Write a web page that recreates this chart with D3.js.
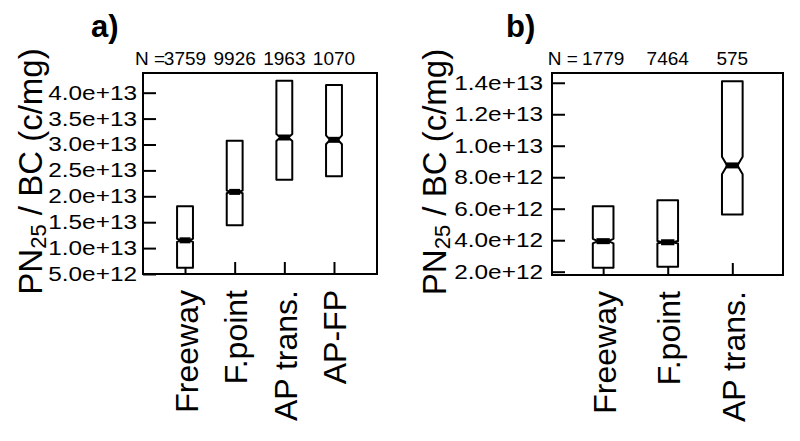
<!DOCTYPE html>
<html>
<head>
<meta charset="utf-8">
<script src="https://cdn.jsdelivr.net/npm/d3@7/dist/d3.min.js"></script>
<style>
  body { margin: 0; background: #fff; }
  svg { display: block; font-family: "Liberation Sans", Arial, sans-serif; }
</style>
</head>
<body>
<svg id="chart" width="800" height="441"></svg>
<script>
// ---------- Data ----------
const catsA = ["Freeway", "F.point", "AP trans.", "AP-FP"];
const nA    = [3759, 9926, 1963, 1070];
const q1A   = [6.2e12, 1.44e13, 2.32e13, 2.385e13];
const medA  = [1.15e13, 2.085e13, 3.135e13, 3.09e13];
const q3A   = [1.81e13, 3.07e13, 4.23e13, 4.15e13];
const ticksA = [5e12, 1e13, 1.5e13, 2e13, 2.5e13, 3e13, 3.5e13, 4e13];

const catsB = ["Freeway", "F.point", "AP trans."];
const nB    = [1779, 7464, 575];
const q1B   = [2.25e12, 2.32e12, 5.63e12];
const medB  = [3.94e12, 3.87e12, 8.75e12];
const q3B   = [6.15e12, 6.53e12, 1.41e13];
const ticksB = [2e12, 4e12, 6e12, 8e12, 1e13, 1.2e13, 1.4e13];

const svg = d3.select("#chart");
const fmt = d3.format(".1e");

function panel(cfg) {
  const { cats, n, q1, med, q3, ticks, left, right, top, bottom, xDom, yDom,
          title, titleX, nPrefix, ylabX, labEnd } = cfg;
  const x = d3.scaleLinear().domain(xDom).range([left, right]);
  const y = d3.scaleLinear().domain(yDom).range([bottom, top]);
  const g = svg.append("g");
  const step = x(2) - x(1);
  const w = 0.32 * step;

  // y axis (inward ticks)
  const ya = g.append("g").attr("transform", `translate(${left},0)`)
    .call(d3.axisLeft(y).tickValues(ticks).tickFormat("").tickSizeInner(-13).tickSizeOuter(0));
  ya.select(".domain").remove();
  ya.selectAll(".tick line").attr("stroke", "#000").attr("stroke-width", 2);
  ya.selectAll(".tick text").remove();
  // tick labels (horizontally widened as in the reference)
  g.selectAll(".ylab").data(ticks).enter().append("text").attr("class", "ylab")
    .attr("transform", (t) => `translate(${labEnd},${y(t) + 7}) scale(1.25,1)`)
    .attr("text-anchor", "end").attr("font-size", 19.5).attr("fill", "#000")
    .text((t) => fmt(t));

  // x axis (inward ticks, rotated labels)
  const xa = g.append("g").attr("transform", `translate(0,${bottom})`)
    .call(d3.axisBottom(x).tickValues(d3.range(1, cats.length + 1))
      .tickFormat((d) => cats[d - 1]).tickSizeInner(-12).tickSizeOuter(0));
  xa.select(".domain").remove();
  xa.selectAll(".tick line").attr("stroke", "#000").attr("stroke-width", 2);
  xa.selectAll(".tick text").attr("font-size", 32).attr("fill", "#000")
    .attr("transform", "rotate(-90)").attr("text-anchor", "end")
    .attr("x", -16).attr("y", 12).attr("dy", 0);

  // notched boxes
  const data = cats.map((c, i) => ({ i: i + 1, n: n[i], q1: q1[i], med: med[i], q3: q3[i] }));
  data.forEach((d) => {
    const nt = 1.58 * (d.q3 - d.q1) / Math.sqrt(d.n);
    const cx = x(d.i), x0 = cx - w / 2, x1 = cx + w / 2;
    const p = d3.path();
    p.moveTo(x0, y(d.q1));
    p.lineTo(x0, y(d.med - nt));
    p.lineTo(cx - w / 4, y(d.med));
    p.lineTo(x0, y(d.med + nt));
    p.lineTo(x0, y(d.q3));
    p.lineTo(x1, y(d.q3));
    p.lineTo(x1, y(d.med + nt));
    p.lineTo(cx + w / 4, y(d.med));
    p.lineTo(x1, y(d.med - nt));
    p.lineTo(x1, y(d.q1));
    p.closePath();
    g.append("path").attr("d", p.toString()).attr("fill", "#fff")
      .attr("stroke", "#000").attr("stroke-width", 2).attr("stroke-linejoin", "round");
    g.append("line").attr("x1", cx - w / 4 - 1.5).attr("x2", cx + w / 4 + 1.5)
      .attr("y1", y(d.med)).attr("y2", y(d.med))
      .attr("stroke", "#000").attr("stroke-width", 6);
  });

  // frame
  g.append("rect").attr("x", left).attr("y", top).attr("width", right - left).attr("height", bottom - top)
    .attr("fill", "none").attr("stroke", "#000").attr("stroke-width", 2);

  // N labels
  g.selectAll(".nlab").data(data).enter().append("text")
    .attr("x", (d) => x(d.i)).attr("y", 65).attr("text-anchor", "middle")
    .attr("font-size", 19).attr("fill", "#000").text((d) => d.n);
  g.append("text").attr("x", x(1) - 20).attr("y", 65).attr("text-anchor", "end")
    .attr("font-size", 19).attr("fill", "#000").text(nPrefix);

  // title
  g.append("text").attr("x", titleX).attr("y", 37).attr("font-size", 31)
    .attr("font-weight", "bold").attr("fill", "#000").text(title);

  // y label
  const yl = g.append("text").attr("transform", `translate(${ylabX},${(top + bottom) / 2 - 2}) rotate(-90)`)
    .attr("text-anchor", "middle").attr("font-size", 33).attr("fill", "#000");
  yl.append("tspan").text("PN");
  yl.append("tspan").attr("font-size", 22).attr("dy", 4).text("25");
  yl.append("tspan").attr("dy", -4).text(" / BC (c/mg)");
}

panel({
  cats: catsA, n: nA, q1: q1A, med: medA, q3: q3A, ticks: ticksA,
  left: 143, right: 377, top: 73, bottom: 274,
  xDom: [0.154, 4.866], yDom: [5e12, 4.38e13],
  title: "a)", titleX: 91, nPrefix: "N =", ylabX: 42, labEnd: 137
});

panel({
  cats: catsB, n: nB, q1: q1B, med: medB, q3: q3B, ticks: ticksB,
  left: 552, right: 783, top: 73, bottom: 275,
  xDom: [0.208, 3.785], yDom: [1.79e12, 1.462e13],
  title: "b)", titleX: 506, nPrefix: "N =\u00a0", ylabX: 446, labEnd: 543
});
</script>
</body>
</html>
